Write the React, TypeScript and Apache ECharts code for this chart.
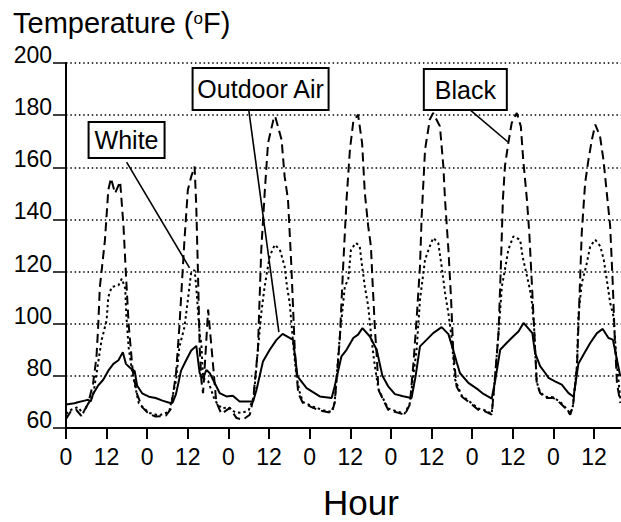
import React, { useEffect, useRef } from "react";
import * as echarts from "echarts";

// [hour, °F]
const outdoorAir: [number, number][] = [
  [0, 69.0], [2.5, 69.5], [3.5, 69.9], [5.5, 70.5], [6.5, 70.8], [7.3, 70.2], [8, 73], [9.5, 76.3], [11, 78.5],
  [12.5, 82], [14, 84.6], [15.5, 86], [16.8, 89.1], [17.7, 84.6], [19, 83], [20.3, 81.8], [21, 76.3], [22.5, 73.3],
  [24.5, 72], [26.5, 71.5], [28.5, 70.5], [30.5, 69.7], [31.5, 69.7], [32.5, 73], [34, 82], [35.5, 86], [37, 89.7],
  [38.5, 91.5], [39.5, 81], [40.5, 79.2], [41.5, 82.3], [42.5, 81], [45.4, 73.4], [47.4, 72.1], [49.3, 72.4],
  [51.3, 70.2], [55.3, 70.2], [56.3, 74.7], [58.2, 85.5], [60.2, 90], [62.2, 93.8], [64, 96.1], [67.1, 93.8],
  [68.4, 79.8], [71.1, 75.3], [75, 72.1], [78.5, 71.5], [79.4, 76], [81.4, 87.5], [82.9, 90], [84.9, 94.5],
  [86.3, 95.8], [87.6, 98.3], [89.8, 95.1], [91.8, 90], [93.5, 80], [95.2, 76], [97.2, 73], [99.6, 72.2],
  [102.1, 71.5], [103.3, 79.8], [104.6, 91.3], [106.6, 93.9], [108.5, 96.4], [111, 98.7], [113, 96], [114.4, 90],
  [115.5, 85], [116.4, 81.1], [118.9, 77.3], [121.8, 74.7], [123, 73.4], [125.8, 71.3], [126.8, 78], [128.3, 90],
  [130.2, 92.6], [132.2, 95.2], [133.7, 97], [135.2, 100.3], [137.8, 96.4], [138.6, 88.8], [140.1, 83.7],
  [141.6, 81.1], [142.6, 79.2], [144.5, 77.9], [146.5, 76.6], [148.5, 73.4], [150, 72], [151.4, 84.6],
  [152.9, 88.1], [154.9, 92.6], [156.9, 96.4], [158.6, 98], [160.3, 94.5], [161.6, 93.9], [162.8, 86.2],
  [163.8, 79.8],
];

const whiteSurface: [number, number][] = [
  [0, 65.4], [1.5, 67], [3.5, 68], [5, 65.6], [6.5, 69.2], [8, 72.4], [9, 80.8], [10.5, 93.6], [12, 101.3],
  [12.5, 110.3], [13.5, 114.1], [15.5, 114.7], [16.5, 117.3], [17.5, 113.5], [17.8, 103.8], [18.5, 91], [19.5, 82],
  [20.5, 75.6], [21.5, 69.5], [24.5, 65.8], [27.5, 64.8], [30.5, 66.3], [32.5, 78.2], [33.5, 91], [35, 98.7],
  [36, 109], [37, 119.9], [38, 120.5], [38.5, 114], [39.5, 96], [40, 92.3], [40.5, 79], [42, 78], [44, 70.5],
  [46, 67.5], [48, 68], [50, 66], [52, 65.8], [54, 66.8], [55.5, 72], [56.7, 90], [57.7, 104], [58.7, 114.3],
  [60.2, 125.9], [61.7, 130.3], [63.2, 128.4], [64.6, 122], [65.3, 114.3], [66.1, 108], [67.1, 92.6], [68.1, 79.8],
  [69, 74], [70, 70], [73, 68.2], [76, 66.8], [78.5, 66.2], [79.4, 70], [80.9, 95.2], [82.4, 114.3], [83.4, 117],
  [84.2, 128.4], [85.7, 131], [86.8, 129.7], [87.5, 122], [88.3, 114.3], [89.3, 106.7], [90.1, 96.4], [91, 86.2],
  [92.3, 75], [93.7, 71.3], [95.2, 67.5], [98.2, 66.2], [100.1, 65.5], [101.6, 69.5], [103.6, 90], [104.6, 109.2],
  [106.1, 124.6], [107.5, 129.7], [108.5, 132.9], [110, 131], [111, 122], [112, 111.8], [113, 104], [113.8, 96.4],
  [115, 78.5], [116.9, 72.5], [119.4, 70], [121.8, 67.5], [123.8, 66.8], [125.8, 65.5], [126.8, 80], [127.8, 96.4],
  [128.8, 114.3], [129.7, 120.7], [130.7, 128.4], [132.2, 133.5], [134.2, 132.2], [134.9, 125.9], [136, 119.5],
  [136.9, 114.3], [137.6, 109.2], [138.3, 99], [139.1, 77.6], [140.1, 73.8], [141.6, 72], [144, 71.8], [146, 70],
  [147.5, 68], [149, 65.5], [149.8, 68.6], [151, 84], [151.4, 102.8], [152.4, 115.6], [153.7, 122], [154.9, 129.7],
  [156.4, 132.2], [157.9, 129.7], [158.9, 124.6], [159.8, 116.9], [160.8, 108], [161.8, 102.8], [162.5, 88.8],
  [163.8, 70.9],
];

const blackSurface: [number, number][] = [
  [0, 63.5], [1.5, 66.5], [3, 67], [4.5, 64.7], [6.5, 69.2], [8, 77], [9, 87.2], [9.5, 98.7], [10, 114],
  [11.5, 132], [12.5, 151.3], [13.3, 155.8], [14.5, 150], [16, 154.5], [17, 137.2], [17.7, 119.2], [18.5, 100],
  [19.7, 82], [21, 73], [22.5, 68], [24.5, 65.4], [26.5, 64.4], [29.5, 64.7], [31, 67.3], [32.5, 80.8],
  [33.5, 98.7], [35, 132], [36, 151.3], [37, 156.4], [38, 160.3], [38.5, 144.9], [39, 119.2], [39.5, 91],
  [40, 78.2], [40.5, 73.4], [41.3, 90], [42, 105.4], [43.4, 85], [44.4, 70], [45.9, 65.4], [48.4, 67.7],
  [50.4, 63.8], [52.3, 63.2], [54.3, 65.1], [55.3, 70.9], [56.7, 90], [57.7, 128.4], [58.7, 150], [59.7, 169.3],
  [61.4, 178.9], [61.8, 179.6], [63.7, 170.6], [64.6, 156.5], [65.6, 147.6], [66.6, 122], [67.6, 90], [68.6, 73.4],
  [70, 69.6], [73, 67.7], [76, 66.4], [78.5, 65.8], [79.4, 69.6], [80.9, 93.9], [81.9, 122], [82.9, 147.6],
  [83.9, 166.8], [84.9, 177.6], [86.3, 180.2], [87.5, 169.3], [88.3, 150.2], [89.3, 137.4], [90.1, 129.7],
  [90.6, 115.6], [91.3, 97.7], [91.9, 86.2], [92.3, 74.7], [93.7, 70.9], [95.2, 67], [98.2, 65.8], [100.1, 65.1],
  [101.6, 69], [102.6, 83.7], [103.6, 101.6], [104.6, 122], [105.1, 141.2], [106.1, 166.8], [107.5, 178.3],
  [108.5, 180.8], [110.5, 175.7], [111.5, 160.4], [112, 147.6], [113, 128.4], [113.8, 109.2], [114.4, 90],
  [115.4, 76], [116.9, 72.1], [119.4, 69.6], [121.8, 67], [123.8, 66.4], [125.8, 65.1], [126.8, 79.8],
  [127.8, 96.4], [128.5, 122], [129.1, 147.6], [129.7, 160.4], [130.7, 169.3], [131.7, 177], [133.2, 180.8],
  [134.4, 175.7], [135.1, 163], [136.2, 147.6], [136.9, 134.8], [137.6, 116.9], [138.3, 99], [139.1, 77.3],
  [140.1, 73.4], [141.6, 71.5], [144, 71.5], [146, 69.6], [147.5, 67.7], [149, 65.1], [149.8, 68.3], [151, 83.7],
  [151.7, 109.2], [152.4, 134.8], [153.4, 154], [154.4, 163], [155.4, 170.6], [156.4, 176.4], [157.8, 171.9],
  [158.8, 163], [159.8, 150.2], [160.8, 137.4], [161.6, 114.3], [162.1, 96.4], [162.8, 77.3], [163.8, 69.6],
];

const xTickHours = [0, 12, 24, 36, 48, 60, 72, 84, 96, 108, 120, 132, 144, 156];

// callout annotations, anchored in data coordinates
const callouts = [
  { label: "White", center: [17.9, 170.5], from: [17.9, 162], to: [36.5, 121.4], w: 76, h: 36 },
  { label: "Outdoor Air", center: [57.5, 190], from: [54, 182], to: [62.9, 96.8], w: 136, h: 42 },
  { label: "Black", center: [118, 189.8], from: [119.4, 182], to: [130.6, 169.7], w: 83, h: 41 },
];

const FONT = "'Liberation Sans', Arial, Helvetica, sans-serif";

export default function App() {
  const ref = useRef<HTMLDivElement>(null);

  useEffect(() => {
    if (!ref.current) return;
    const chart = echarts.init(ref.current, null, { renderer: "svg" });
    const option: any = {
      animation: false,
      backgroundColor: "#fff",
      textStyle: { fontFamily: FONT },
      title: [
        {
          text: "Temperature ({s|o}F)",
          left: 8,
          top: 3,
          textStyle: {
            fontSize: 29,
            fontWeight: "normal",
            color: "#000",
            fontFamily: FONT,
            rich: { s: { fontSize: 17, verticalAlign: "top", color: "#000", fontFamily: FONT, padding: [2, 0, 0, 0] } },
          },
        },
        {
          text: "Hour",
          left: 318,
          top: 480,
          textStyle: { fontSize: 35, fontWeight: "normal", color: "#000", fontFamily: FONT },
        },
      ],
      grid: { left: 66, right: 0, top: 63, bottom: 94, containLabel: false },
      xAxis: {
        type: "value",
        min: 0,
        max: 164,
        axisLine: { show: true, lineStyle: { color: "#000", width: 2 } },
        axisTick: { show: true, customValues: xTickHours, length: 11, lineStyle: { color: "#000", width: 2 } },
        axisLabel: {
          customValues: xTickHours,
          formatter: (v: number) => String(v % 24),
          fontSize: 23,
          color: "#000",
          margin: 17,
          fontFamily: FONT,
        },
        splitLine: { show: false },
      },
      yAxis: {
        type: "value",
        min: 60,
        max: 200,
        interval: 20,
        axisLine: { show: true, lineStyle: { color: "#000", width: 2 } },
        axisTick: { show: true, length: 13, lineStyle: { color: "#000", width: 1.5 } },
        axisLabel: {
          fontSize: 23,
          color: "#000",
          margin: 14,
          verticalAlign: "bottom",
          lineHeight: 16,
          fontFamily: FONT,
        },
        splitLine: { show: true, lineStyle: { color: "#000", width: 1.5, type: [1.5, 2.8] } },
      },
      series: [
        {
          name: "Black",
          type: "line",
          data: blackSurface,
          showSymbol: false,
          lineStyle: { color: "#000", width: 2, type: [9, 5] },
          z: 2,
        },
        {
          name: "White",
          type: "line",
          data: whiteSurface,
          showSymbol: false,
          lineStyle: { color: "#000", width: 2, type: [2.5, 3] },
          z: 3,
        },
        {
          name: "Outdoor Air",
          type: "line",
          data: outdoorAir,
          showSymbol: false,
          lineStyle: { color: "#000", width: 2, type: "solid" },
          z: 4,
        },
      ],
    };
    chart.setOption(option);

    const graphics: any[] = [];
    callouts.forEach((c) => {
      const [cx, cy] = chart.convertToPixel({ gridIndex: 0 }, c.center) as number[];
      const [fx, fy] = chart.convertToPixel({ gridIndex: 0 }, c.from) as number[];
      const [tx, ty] = chart.convertToPixel({ gridIndex: 0 }, c.to) as number[];
      graphics.push({
        type: "line",
        shape: { x1: fx, y1: fy, x2: tx, y2: ty },
        style: { stroke: "#000", lineWidth: 1.6 },
        z: 100,
      });
      graphics.push({
        type: "rect",
        shape: { x: cx - c.w / 2, y: cy - c.h / 2, width: c.w, height: c.h },
        style: { fill: "#fff", stroke: "#000", lineWidth: 2 },
        z: 101,
      });
      graphics.push({
        type: "text",
        x: cx,
        y: cy,
        style: {
          text: c.label,
          fill: "#000",
          fontSize: 25,
          fontFamily: FONT,
          align: "center",
          verticalAlign: "middle",
          textAlign: "center",
          textVerticalAlign: "middle",
        },
        z: 102,
      });
    });
    chart.setOption({ graphic: graphics });

    return () => chart.dispose();
  }, []);

  return (
    <div
      ref={ref}
      style={{ position: "fixed", left: 0, top: 0, width: 621, height: 522, background: "#fff" }}
    />
  );
}
